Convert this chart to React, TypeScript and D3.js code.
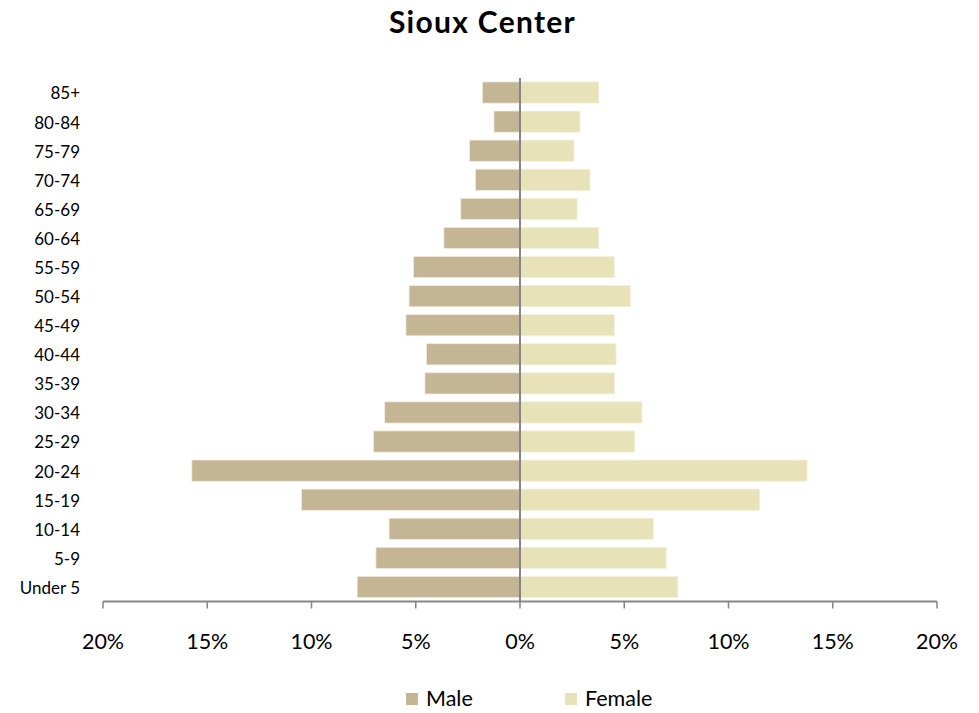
import React from "react";
import * as d3 from "d3";

const categories = ["85+","80-84","75-79","70-74","65-69","60-64","55-59","50-54","45-49","40-44","35-39","30-34","25-29","20-24","15-19","10-14","5-9","Under 5"];
const maleValues = [1.80,1.25,2.42,2.14,2.84,3.65,5.11,5.32,5.47,4.48,4.56,6.49,7.03,15.74,10.48,6.28,6.91,7.81];
const femaleValues = [3.78,2.88,2.59,3.36,2.74,3.78,4.53,5.29,4.53,4.61,4.53,5.85,5.50,13.77,11.50,6.40,7.01,7.57];
const tickValues = [-20,-15,-10,-5,0,5,10,15,20];
const seriesNames = ["Male","Female"];

const W = 979, H = 713;
const MALE = "#c4b594";
const FEMALE = "#e8e2b8";
const FONT = "Lato, 'Open Sans', sans-serif";

export default function App() {
  const x = d3.scaleLinear().domain([-20, 20]).range([103, 937]);
  const y = d3.scaleBand().domain(categories).range([78, 601.5]).paddingInner(0.27).paddingOuter(0.135);
  const axisY = 601.5;
  return (
    <svg width={W} height={H} style={{ position: "absolute", left: 0, top: 0 }} fontFamily={FONT}>
      <rect width={W} height={H} fill="#fff" />
      <text x={482.5} y={33} textAnchor="middle" fontSize={30} fontWeight="bold" letterSpacing={1.3} fill="#000">Sioux Center</text>
      {categories.map((c, i) => (
        <g key={c}>
          <rect x={x(-maleValues[i])} y={y(c)} width={x(0) - x(-maleValues[i])} height={y.bandwidth()} fill={MALE} stroke="#f0ece0" strokeWidth={0.8} />
          <rect x={x(0)} y={y(c)} width={x(femaleValues[i]) - x(0)} height={y.bandwidth()} fill={FEMALE} stroke="#f4f1e0" strokeWidth={0.8} />
          <text x={80} y={(y(c) as number) + y.bandwidth() / 2 + 1} dy="0.35em" textAnchor="end" fontSize={17} fill="#000">{c}</text>
        </g>
      ))}
      <line x1={x(0)} x2={x(0)} y1={78} y2={axisY} stroke="#868686" strokeWidth={2} />
      <line x1={x(-20)} x2={x(20)} y1={axisY} y2={axisY} stroke="#868686" strokeWidth={2} />
      {tickValues.map(t => (
        <g key={t}>
          <line x1={x(t)} x2={x(t)} y1={axisY} y2={axisY + 7} stroke="#868686" strokeWidth={1.5} />
          <text x={x(t)} y={649} textAnchor="middle" fontSize={21.5} fill="#000">{Math.abs(t)}%</text>
        </g>
      ))}
      {seriesNames.map((s, i) => (
        <g key={s} transform={`translate(${406 + i * 159},0)`}>
          <rect x={0} y={693} width={12} height={12} fill={i === 0 ? MALE : FEMALE} />
          <text x={20} y={706} fontSize={21.5} fill="#000">{s}</text>
        </g>
      ))}
    </svg>
  );
}
